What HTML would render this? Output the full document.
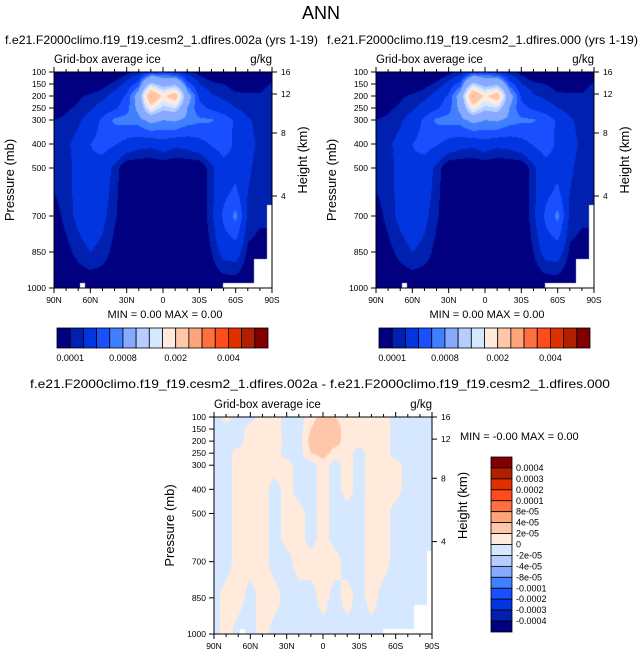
<!DOCTYPE html>
<html><head><meta charset="utf-8">
<style>
body{margin:0;background:#fff;width:643px;height:658px;position:relative;overflow:hidden;font-family:"Liberation Sans",sans-serif;}
canvas{position:absolute;}
svg{position:absolute;left:0;top:0;}
</style></head>
<body>
<canvas id="c1" style="left:54px;top:72px" width="218" height="216"></canvas>
<canvas id="c2" style="left:376px;top:72px" width="218" height="216"></canvas>
<canvas id="c3" style="left:214px;top:417px" width="218" height="217"></canvas>
<svg id="s" width="643" height="658"></svg>
<script>
// ---- data ----
const lats = [90,80,70,60,50,40,30,20,10,0,-10,-20,-30,-40,-50,-60,-70,-80,-90];
const pres = [100,150,200,250,300,400,500,600,700,850,1000];
const iceScale = 1e-4; // values below in units of 1e-4 g/kg
const ice = [
[0,0,0,0,0,0,0.3,0.6,1.5,2,1.2,0.6,0.3,0,0,0,0,0,0],
[0,0,0,0,0.3,0.6,1.2,2.5,9,6,7,2.5,1,0.6,0.5,0.3,0.2,0.2,0.6],
[0,0.2,0.4,0.6,0.8,1.3,2.2,5,21,14,18,5,1.8,1.1,0.8,0.6,0.6,0.6,0.8],
[0.2,0.4,0.6,0.9,1.3,1.8,2.6,4.5,13,9,10,4,2.3,1.8,1.4,1,0.7,0.6,0.7],
[0.5,0.6,0.9,1.3,2.2,3.2,3.4,3.5,4.5,4,4.2,3.5,3.2,3.1,2.6,1.8,1.1,0.8,0.7],
[0.7,0.9,1.2,2,2.4,2.1,1.6,1.3,1.2,1.5,1.2,1.3,1.6,2.1,2.5,1.8,1.2,0.9,0.8],
[0.6,0.8,1.2,1.8,1.5,0.8,0,0,0,0,0,0,0,0.8,1.6,1.7,1.1,0.8,0.7],
[0.5,0.8,1.2,1.8,1.4,0.7,0,0,0,0,0,0,0,0.8,1.7,2.2,1,0.7,0.7],
[0.2,0.7,1.2,1.6,1.2,0.6,0,0,0,0,0,0,0,0.8,2.2,3.3,0.8,0.6,0.6],
[0,0.3,0.7,1,0.8,0.3,0,0,0,0,0,0,0,0.5,1.3,1.4,0.4,0.3,0.3],
[0,0,0,0,0,0,0,0,0,0,0,0,0,0,0,0,0,0,0]
];
const diffScale = 1e-5; // values below in units of 1e-5 g/kg
const diff = [
[-1,1,-1,-1,1,1,-1,-1,1,3,2,1,1,1,1,-1,-1,-1,-1],
[-1,-1,-1,1,1,1,-1,-1,2,4,3,1,1,1,1,-1,-1,-1,-1],
[-1,-1,-1,1,1,2,-1,-1,3,4,3,1,1,1,1,-1,-1,-1,-1],
[-1,-1,1,1,1,1,-1,-1,2,3,1,1,-1,1,1,-1,-1,-1,-1],
[-1,-1,1,1,1,1,1,-1,-1,1,-1,1,-1,1,1,1,-1,-1,-1],
[-1,-1,1,1,1,-1,1,-1,-1,1,-1,1,-1,1,1,1,-1,-1,-1],
[-1,-1,1,1,1,-1,1,1,-1,1,-1,-1,-1,1,1,-1,-1,-1,-1],
[-1,-1,1,1,1,-1,1,1,-1,1,-1,-1,-1,1,1,-1,-1,-1,-1],
[-1,-1,1,1,1,-1,-1,1,1,1,1,-1,-1,1,1,-1,-1,-1,-1],
[-1,1,1,-1,1,1,-1,-1,-1,1,-1,1,-1,1,-1,-1,-1,-1,-1],
[-1,1,-1,-1,1,-1,-1,-1,-1,-1,-1,-1,-1,-1,-1,-1,-1,-1,-1]
];
const iceLevels = [0.00005,0.0001,0.0002,0.0003,0.0004,0.0008,0.001,0.0012,0.0015,0.002,0.0025,0.003,0.0035,0.004,0.0045];
const iceLabelIdx = [1,5,9,13];
const iceLabels = ["0.0001","0.0008","0.002","0.004"];
const diffLevels = [-0.0004,-0.0003,-0.0002,-0.0001,-8e-5,-4e-5,-2e-5,0,2e-5,4e-5,8e-5,0.0001,0.0002,0.0003,0.0004];
const diffLabels = ["-0.0004","-0.0003","-0.0002","-0.0001","-8e-05","-4e-05","-2e-05","0","2e-05","4e-05","8e-05","0.0001","0.0002","0.0003","0.0004"];
const palette = ["#000080","#0020b0","#0035e0","#1a4fff","#4080ff","#85aaff","#b5cdff","#d5e8ff","#ffeadb","#ffc7aa","#ffa57b","#ff7040","#ff4c1c","#e03000","#b02000","#800000"];
const pTicks = [100,150,200,250,300,400,500,700,850,1000];
const hTicks = [[16,72],[12,94],[8,133],[4,196]];
const xTickLats = [90,60,30,0,-30,-60,-90];
const xTickLabels = ["90N","60N","30N","0","30S","60S","90S"];

// ---- helpers ----
function sample(grid, lat, p){
  let fi = (90-lat)/10; let i0 = Math.min(Math.floor(fi), lats.length-2); let fx = fi-i0;
  let j0 = 0; while(j0 < pres.length-2 && pres[j0+1] < p) j0++;
  let fy = (p-pres[j0])/(pres[j0+1]-pres[j0]);
  const a=grid[j0][i0], b=grid[j0][i0+1], c=grid[j0+1][i0], d=grid[j0+1][i0+1];
  return (a*(1-fx)+b*fx)*(1-fy)+(c*(1-fx)+d*fx)*fy;
}
function band(v, levels){ let k=0; while(k<levels.length && v>=levels[k]) k++; return k; }
function hex(c){return [parseInt(c.slice(1,3),16),parseInt(c.slice(3,5),16),parseInt(c.slice(5,7),16)];}
function fill(id, grid, scale, levels){
  const cv=document.getElementById(id), ctx=cv.getContext('2d');
  const W=cv.width,H=cv.height, img=ctx.createImageData(W,H);
  const pal=palette.map(hex);
  for(let y=0;y<H;y++){ const p=100+900*(y+0.5)/H;
    for(let x=0;x<W;x++){ const lat=90-180*(x+0.5)/W;
      const v=sample(grid,lat,p)*scale; const col=pal[band(v,levels)];
      const o=(y*W+x)*4; img.data[o]=col[0];img.data[o+1]=col[1];img.data[o+2]=col[2];img.data[o+3]=255; } }
  ctx.putImageData(img,0,0);
  ctx.fillStyle='#fff';
  ctx.fillRect(26,H-5,5,5);
  ctx.fillRect(169,H-5,49,5);
  ctx.fillRect(200,H-29,18,29);
  ctx.fillRect(213,H-83,5,83);
}
fill('c1',ice,iceScale,iceLevels);
fill('c2',ice,iceScale,iceLevels);
fill('c3',diff,diffScale,diffLevels);

const S=document.getElementById('s'), NS='http://www.w3.org/2000/svg';
function el(tag, attrs, txt){const e=document.createElementNS(NS,tag); for(const k in attrs) e.setAttribute(k,attrs[k]); if(txt!==undefined) e.textContent=txt; S.appendChild(e); return e;}
function text(x,y,t,size,anchor,name,extra){const e=el('text',Object.assign({x:x,y:y,'font-size':size,'text-anchor':anchor||'start','font-family':'Liberation Sans, sans-serif',fill:'#000'},extra||{}),t);
  
  
  return e;}

function axes(x0,y0,w,h,pfx){
  const xs=lat=>x0+(90-lat)/180*w, ys=p=>y0+(p-100)/900*h;
  const fr=el('rect',{x:x0,y:y0,width:w,height:h,fill:'none',stroke:'#000','stroke-width':1});
  
  
  pTicks.forEach(p=>{const y=ys(p);
    el('line',{x1:x0-5,x2:x0,y1:y,y2:y,stroke:'#000'});
    text(x0-8,y+3,String(p),8.5,'end',pfx+'-pressure-tick');});
  hTicks.forEach(([km,yy])=>{const y=y0+(yy-72)*h/216;
    el('line',{x1:x0+w,x2:x0+w+5,y1:y,y2:y,stroke:'#000'});
    text(x0+w+9,y+3,String(km),8.5,'start',pfx+'-height-tick');});
  for(let lat=90;lat>=-90;lat-=10){const x=xs(lat); const major=lat%30===0;
    el('line',{x1:x,x2:x,y1:y0+h,y2:y0+h+(major?5:3),stroke:'#000'});
    el('line',{x1:x,x2:x,y1:y0,y2:y0-(major?5:3),stroke:'#000'});}
  xTickLats.forEach((lat,i)=>text(xs(lat),y0+h+15,xTickLabels[i],8.5,'middle',pfx+'-lat-tick'));
  text(x0,y0-9,'Grid-box average ice',11.5,'start',pfx+'-subtitle');
  text(x0+w,y0-9,'g/kg',11.5,'end',pfx+'-units');
  text(0,0,'Pressure (mb)',13,'middle',pfx+'-y-axis-title',{transform:`translate(${x0-40},${y0+h/2}) rotate(-90)`});
  text(0,0,'Height (km)',13,'middle',pfx+'-y2-axis-title',{transform:`translate(${x0+w+35},${y0+h/2-20}) rotate(-90)`});
}
function hbar(x0,y0,w,h,pfx){
  const bw=w/palette.length;
  palette.forEach((c,i)=>{const r=el('rect',{x:x0+i*bw,y:y0,width:bw,height:h,fill:c,stroke:'#000','stroke-width':0.8});
    
    });
  iceLabelIdx.forEach((k,i)=>text(x0+k*bw,y0+h+13,iceLabels[i],9,'middle',pfx+'-colorbar-label'));
}
text(321,19,'ANN',18,'middle','main-title');
text(5,44,'f.e21.F2000climo.f19_f19.cesm2_1.dfires.002a (yrs 1-19)',12,'start','panel-1-title',{textLength:313,lengthAdjust:'spacingAndGlyphs'});
text(327,44,'f.e21.F2000climo.f19_f19.cesm2_1.dfires.000 (yrs 1-19)',12,'start','panel-2-title',{textLength:311,lengthAdjust:'spacingAndGlyphs'});
axes(54,72,218,216,'panel-1'); axes(376,72,218,216,'panel-2');
text(165,318,'MIN =   0.00  MAX =   0.00',11,'middle','panel-1-minmax',{'xml:space':'preserve'});
text(487,318,'MIN =   0.00  MAX =   0.00',11,'middle','panel-2-minmax',{'xml:space':'preserve'});
hbar(57,328,211,20,'panel-1'); hbar(379,328,211,20,'panel-2');
text(320,388,'f.e21.F2000climo.f19_f19.cesm2_1.dfires.002a - f.e21.F2000climo.f19_f19.cesm2_1.dfires.000',12,'middle','diff-title',{textLength:580,lengthAdjust:'spacingAndGlyphs'});
axes(214,417,218,217,'diff');
text(460,440,'MIN =  -0.00  MAX =   0.00',11,'start','diff-minmax',{'xml:space':'preserve'});
(function(){const x0=491,y0=457,w=21,h=175,bh=h/palette.length;
  for(let i=0;i<palette.length;i++){const c=palette[palette.length-1-i];
    const r=el('rect',{x:x0,y:y0+i*bh,width:w,height:bh,fill:c,stroke:'#000','stroke-width':0.8});
    
    }
  for(let k=0;k<diffLabels.length;k++){const y=y0+(k+1)*bh;
    text(x0+w+4,y+3,diffLabels[diffLabels.length-1-k],9,'start','diff-colorbar-label');}
})();
</script>
</body></html>
